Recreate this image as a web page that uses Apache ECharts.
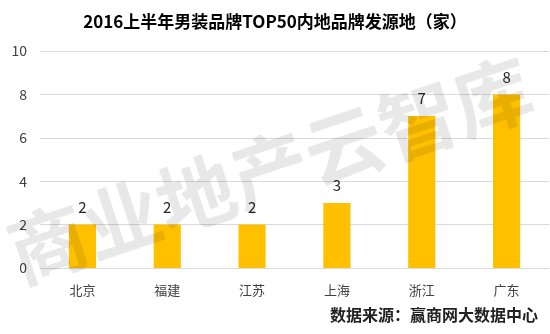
<!DOCTYPE html>
<html><head><meta charset="utf-8">
<script src="https://cdn.jsdelivr.net/npm/echarts@6/dist/echarts.min.js"></script>
<style>html,body{margin:0;padding:0;background:#fff}#c{width:550px;height:334px}</style>
</head><body><div id="c"></div>
<script>
var categories = ['北京','福建','江苏','上海','浙江','广东'];
var values = [2,2,2,3,7,8];
var yTicks = [0,2,4,6,8,10];
var titleText = '2016上半年男装品牌TOP50内地品牌发源地（家）';
var sourceText = '数据来源：赢商网大数据中心';
var watermarkText = '商业地产云智库';

var chart = echarts.init(document.getElementById('c'));
chart.setOption({
  backgroundColor:'#fff',
  animation:false,
  title:{text:titleText,left:'center',top:8,textStyle:{fontSize:17,fontWeight:'bold',color:'#000',fontFamily:'Noto Sans CJK SC'}},
  grid:{left:40,right:1,top:51,bottom:66},
  xAxis:{type:'category',data:categories,axisTick:{show:false},
    axisLine:{lineStyle:{color:'#d9d9d9'}},
    axisLabel:{color:'#404040',fontSize:13,margin:16,fontFamily:'Noto Sans CJK SC'}},
  yAxis:{type:'value',min:yTicks[0],max:yTicks[yTicks.length-1],interval:2,
    axisLine:{show:false},axisTick:{show:false},
    splitLine:{lineStyle:{color:'#d9d9d9'}},
    axisLabel:{color:'#404040',fontSize:14,margin:13,fontFamily:'Noto Sans CJK SC'}},
  series:[{type:'bar',data:values,barWidth:'32%',itemStyle:{color:'#FFC000'},
    label:{show:true,position:'top',distance:10,color:'#262626',fontSize:15,fontFamily:'Noto Sans CJK SC'}}],
  graphic:[
    {type:'text',z:100,x:270,y:170,rotation:0.32,
      style:{text:watermarkText,fontSize:78,fontFamily:'Noto Sans CJK SC',fontWeight:'bold',fill:'rgba(0,0,0,0.09)',textAlign:'center',textVerticalAlign:'middle'}},
    {type:'text',right:12,top:307,
      style:{text:sourceText,fontSize:16,fontWeight:'bold',fontFamily:'Noto Sans CJK SC',fill:'#222'}}
  ]
});
</script></body></html>
